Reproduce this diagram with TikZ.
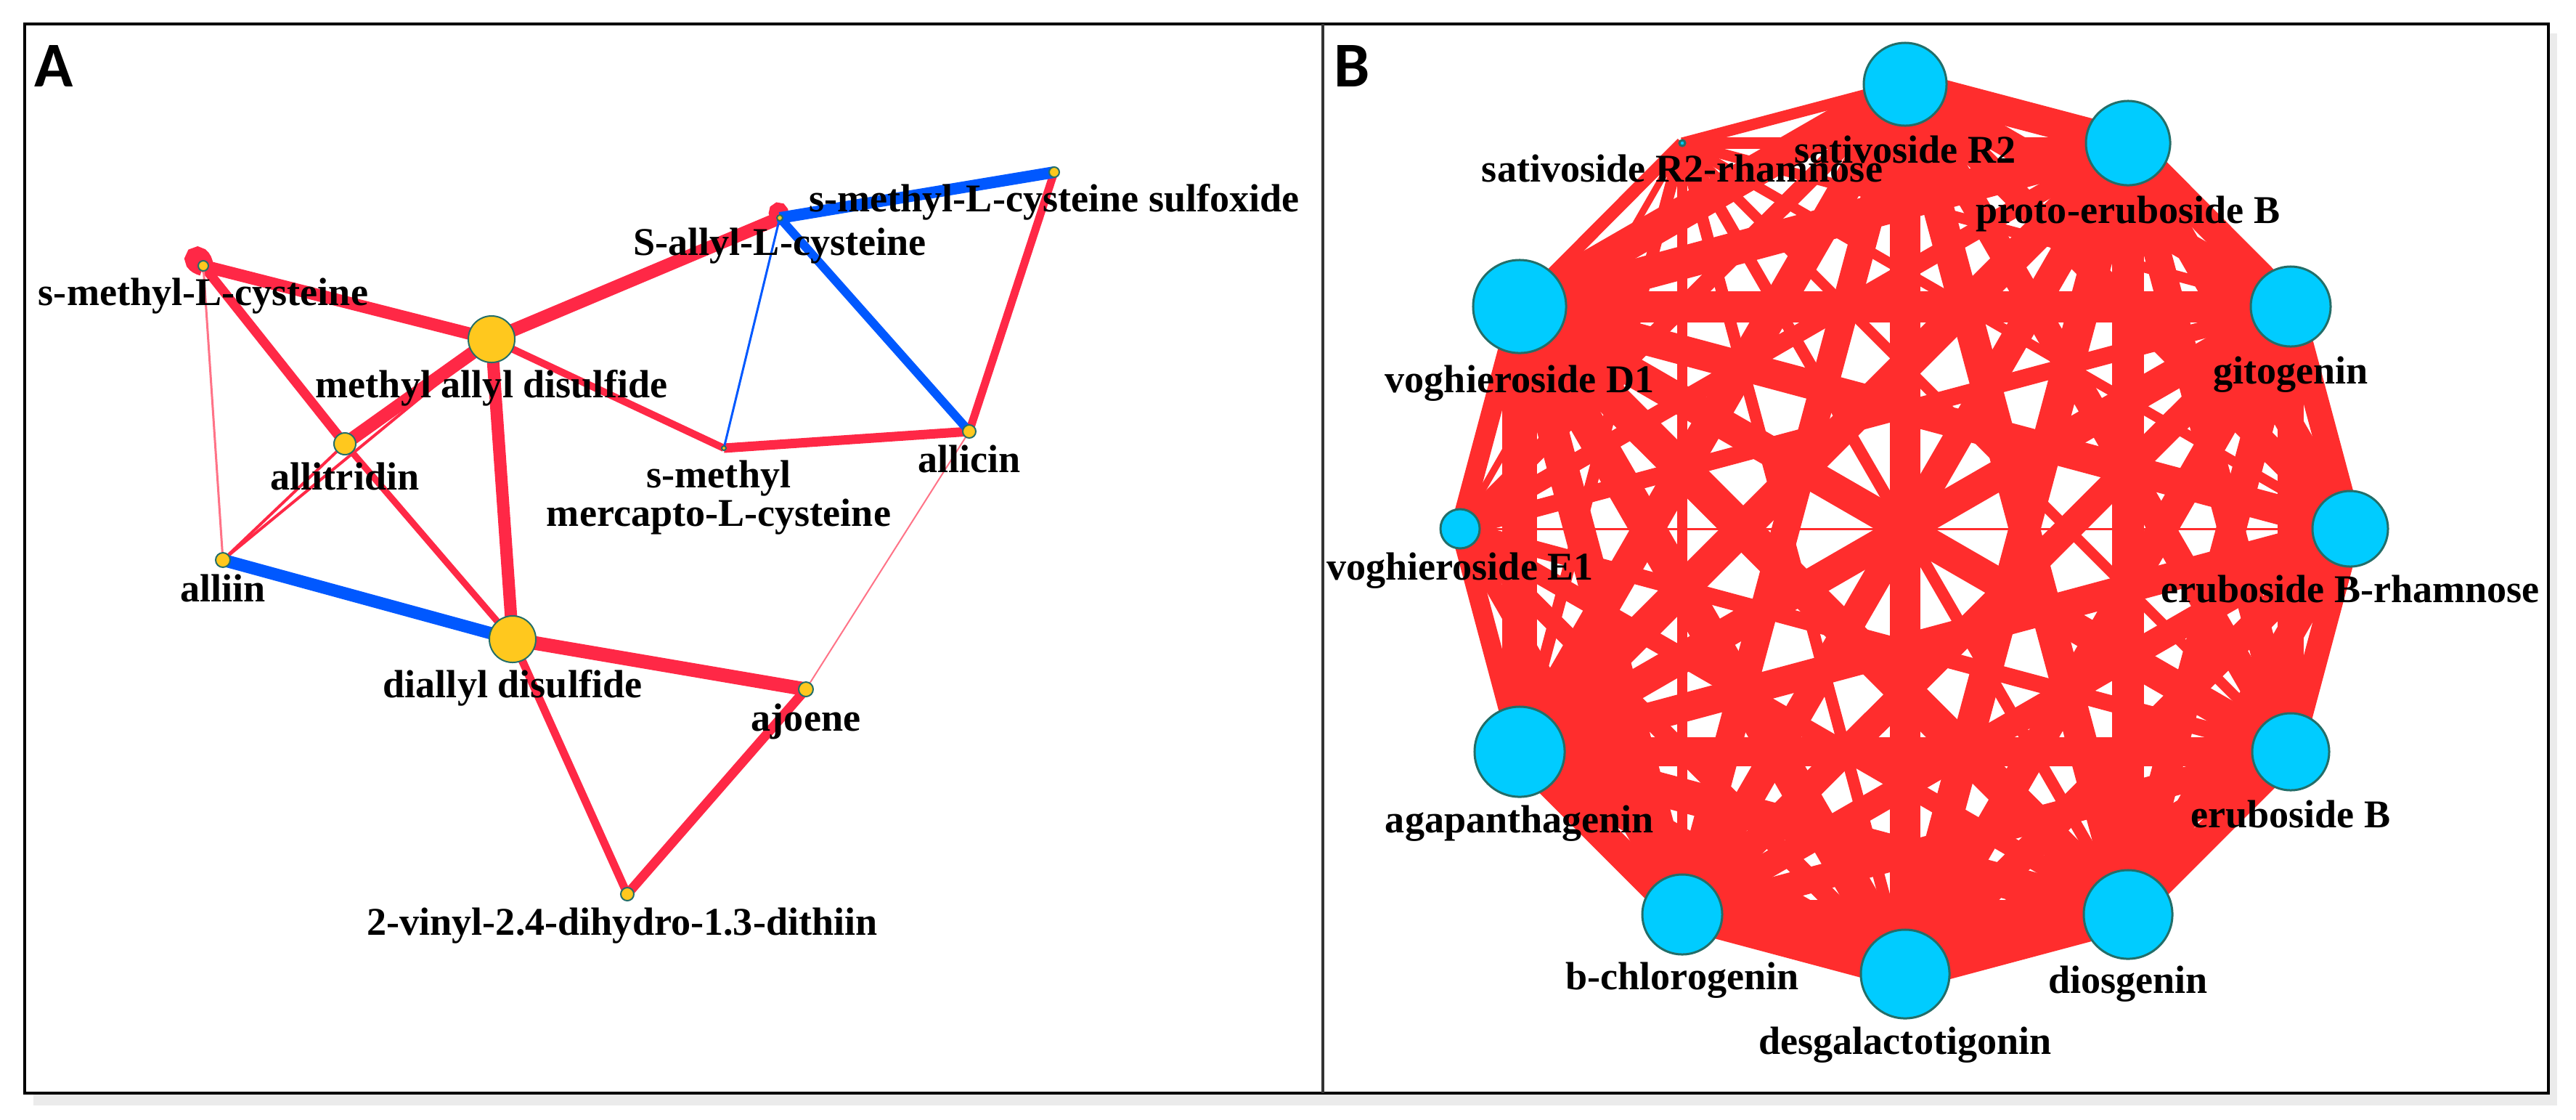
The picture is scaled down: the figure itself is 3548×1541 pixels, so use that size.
\documentclass[tikz,border=0pt]{standalone}
\usepackage{fontspec}
\setmainfont{Liberation Serif}
\newfontfamily\tagfont{Carlito}
\usetikzlibrary{positioning}
\usetikzlibrary{shapes}

\definecolor{edgered}{RGB}{255,40,70}
\definecolor{edgeblue}{RGB}{0,88,255}
\definecolor{edgepink}{RGB}{255,115,135}
\definecolor{netred}{RGB}{255,45,45}
\definecolor{nodeyellow}{RGB}{255,200,30}
\definecolor{nodecyan}{RGB}{0,204,255}
\definecolor{nodeteal}{RGB}{35,110,105}

\pgfdeclarelayer{back}
\pgfdeclarelayer{edges}
\pgfsetlayers{back,edges,main}

\tikzstyle{chem} = [circle, draw=nodeteal, fill=nodeyellow, line width=0.02cm, inner sep=0pt]
\tikzstyle{sapo} = [circle, draw=nodeteal, fill=nodecyan, line width=0.03cm, inner sep=0pt]
\tikzstyle{lbl} = [font=\bfseries\fontsize{15.4}{13}\selectfont, inner sep=0pt, text height=0.37cm, text depth=0.11cm]
\tikzstyle{lbltwo} = [font=\bfseries\fontsize{15.4}{13}\selectfont, inner sep=0pt, align=center]
\tikzstyle{panel} = [font=\tagfont\bfseries\fontsize{25}{25}\selectfont, inner sep=0pt, anchor=north west]
\tikzstyle{redline} = [draw=edgered]
\tikzstyle{blueline} = [draw=edgeblue]
\tikzstyle{thinline} = [draw=edgepink, line width=0.03cm]
\tikzstyle{netline} = [draw=netred]

\begin{document}
\begin{tikzpicture}[x=0.01cm, y=-0.01cm]
    \useasboundingbox (0,0) rectangle (3548,1541);
    \begin{pgfonlayer}{back}
        \fill [black!8] (46,46) rectangle (3522,1522);
        \fill [white] (34,33) rectangle (3510,1505);
        \draw [line width=0.04cm] (34,33) rectangle (3510,1505);
        \draw [line width=0.04cm, black!80] (1822,33) -- (1822,1505);
    \end{pgfonlayer}

    \node [panel] (tag_a) at (47,62) {A};
    \node [panel] (tag_b) at (1837,62) {B};

    \node [chem, minimum size=0.14cm] (smcys) at (280,366) {};
    \node [chem, minimum size=0.64cm] (methyl_allyl) at (677,467) {};
    \node [chem, minimum size=0.08cm] (sacys) at (1074,300) {};
    \node [chem, minimum size=0.14cm] (sulfoxide) at (1452,237) {};
    \node [chem, minimum size=0.30cm] (allitridin) at (475,611) {};
    \node [chem, minimum size=0.06cm] (mercapto) at (997,617) {};
    \node [chem, minimum size=0.18cm] (allicin) at (1335,594) {};
    \node [chem, minimum size=0.20cm] (alliin) at (307,771) {};
    \node [chem, minimum size=0.64cm] (diallyl) at (706,880) {};
    \node [chem, minimum size=0.20cm] (ajoene) at (1110,949) {};
    \node [chem, minimum size=0.18cm] (vinyl) at (864,1231) {};

    \begin{pgfonlayer}{edges}
        \path [redline, line width=0.28cm] (smcys.center) to [out=100, in=165, min distance=0.24cm] (smcys.center);
        \path [redline, line width=0.22cm] (sacys.center) to [out=70, in=135, min distance=0.16cm] (sacys.center);
        \path [redline, line width=0.17cm] (smcys.center) -- (methyl_allyl.center);
        \path [redline, line width=0.13cm] (smcys.center) -- (allitridin.center);
        \path [thinline] (smcys.center) -- (alliin.center);
        \path [redline, line width=0.18cm] (methyl_allyl.center) -- (allitridin.center);
        \path [redline, line width=0.04cm] (methyl_allyl.center) -- (alliin.center);
        \path [redline, line width=0.04cm] (allitridin.center) -- (alliin.center);
        \path [redline, line width=0.17cm] (methyl_allyl.center) -- (diallyl.center);
        \path [redline, line width=0.10cm] (methyl_allyl.center) -- (mercapto.center);
        \path [redline, line width=0.18cm] (methyl_allyl.center) -- (sacys.center);
        \path [redline, line width=0.09cm] (allitridin.center) -- (diallyl.center);
        \path [blueline, line width=0.17cm] (alliin.center) -- (diallyl.center);
        \path [redline, line width=0.19cm] (diallyl.center) -- (ajoene.center);
        \path [redline, line width=0.11cm] (diallyl.center) -- (vinyl.center);
        \path [redline, line width=0.13cm] (ajoene.center) -- (vinyl.center);
        \path [thinline, line width=0.02cm] (ajoene.center) -- (allicin.center);
        \path [redline, line width=0.13cm] (mercapto.center) -- (allicin.center);
        \path [redline, line width=0.11cm] (allicin.center) -- (sulfoxide.center);
        \path [blueline, line width=0.12cm] (allicin.center) -- (sacys.center);
        \path [blueline, line width=0.16cm] (sacys.center) -- (sulfoxide.center);
        \path [blueline, line width=0.03cm] (sacys.center) -- (mercapto.center);
    \end{pgfonlayer}

    \node [lbl] (smcys_name) [below=0.09cm of smcys] {s-methyl-L-cysteine};
    \node [lbl] (methyl_allyl_name) [below=0.1cm of methyl_allyl] {methyl allyl disulfide};
    \node [lbl] (sacys_name) [below=0.09cm of sacys] {S-allyl-L-cysteine};
    \node [lbl] (sulfoxide_name) [below=0.09cm of sulfoxide] {s-methyl-L-cysteine sulfoxide};
    \node [lbl] (allitridin_name) [below=0.1cm of allitridin] {allitridin};
    \node [lbltwo] (mercapto_name) [below=0.12cm of mercapto, xshift=-0.07cm] {s-methyl\\mercapto-L-cysteine};
    \node [lbl] (allicin_name) [below=0.09cm of allicin] {allicin};
    \node [lbl] (alliin_name) [below=0.09cm of alliin] {alliin};
    \node [lbl] (diallyl_name) [below=0.1cm of diallyl] {diallyl disulfide};
    \node [lbl] (ajoene_name) [below=0.09cm of ajoene] {ajoene};
    \node [lbl] (vinyl_name) [below=0.09cm of vinyl, xshift=-0.07cm] {2-vinyl-2.4-dihydro-1.3-dithiin};

    \node [sapo, minimum size=1.14cm] (r2) at (2624,116) {};
    \node [sapo, minimum size=1.16cm] (proto) at (2931,197) {};
    \node [sapo, minimum size=1.10cm] (gito) at (3155,422) {};
    \node [sapo, minimum size=1.04cm] (b_rham) at (3237,728) {};
    \node [sapo, minimum size=1.06cm] (erub) at (3155,1035) {};
    \node [sapo, minimum size=1.22cm] (dios) at (2931,1259) {};
    \node [sapo, minimum size=1.22cm] (desgal) at (2624,1341) {};
    \node [sapo, minimum size=1.10cm] (bchloro) at (2317,1259) {};
    \node [sapo, minimum size=1.24cm] (agapan) at (2093,1035) {};
    \node [sapo, minimum size=0.54cm] (vogh_e1) at (2011,728) {};
    \node [sapo, minimum size=1.28cm] (vogh_d1) at (2093,422) {};
    \node [sapo, minimum size=0.08cm] (r2_rham) at (2317,197) {};

    \begin{pgfonlayer}{edges}
        \foreach \u/\wu [count=\i] in {r2/57, proto/58, gito/55, b_rham/52, erub/53, dios/61, desgal/61, bchloro/55, agapan/62, vogh_e1/35, vogh_d1/64, r2_rham/22} {
            \foreach \v/\wv [count=\j] in {r2/57, proto/58, gito/55, b_rham/52, erub/53, dios/61, desgal/61, bchloro/55, agapan/62, vogh_e1/35, vogh_d1/64, r2_rham/22} {
                \ifnum\j>\i
                    \pgfmathsetmacro{\lw}{(\i==4 && \j==10) ? 0.03 : \wu*\wv*0.00012}
                    \path [netline, line width=\lw cm] (\u.center) -- (\v.center);
                \fi
            }
        }
    \end{pgfonlayer}

    \node [lbl] (r2_name) [below=0.12cm of r2] {sativoside R2};
    \node [lbl] (proto_name) [below=0.13cm of proto] {proto-eruboside B};
    \node [lbl] (gito_name) [below=0.12cm of gito] {gitogenin};
    \node [lbl] (b_rham_name) [below=0.1cm of b_rham] {eruboside B-rhamnose};
    \node [lbl] (erub_name) [below=0.12cm of erub] {eruboside B};
    \node [lbl] (dios_name) [below=0.08cm of dios] {diosgenin};
    \node [lbl] (desgal_name) [below=0.1cm of desgal] {desgalactotigonin};
    \node [lbl] (bchloro_name) [below=0.09cm of bchloro] {b-chlorogenin};
    \node [lbl] (agapan_name) [below=0.1cm of agapan] {agapanthagenin};
    \node [lbl] (vogh_e1_name) [below=0.04cm of vogh_e1] {voghieroside E1};
    \node [lbl] (vogh_d1_name) [below=0.15cm of vogh_d1] {voghieroside D1};
    \node [lbl] (r2_rham_name) [below=0.1cm of r2_rham] {sativoside R2-rhamnose};
\end{tikzpicture}
\end{document}
